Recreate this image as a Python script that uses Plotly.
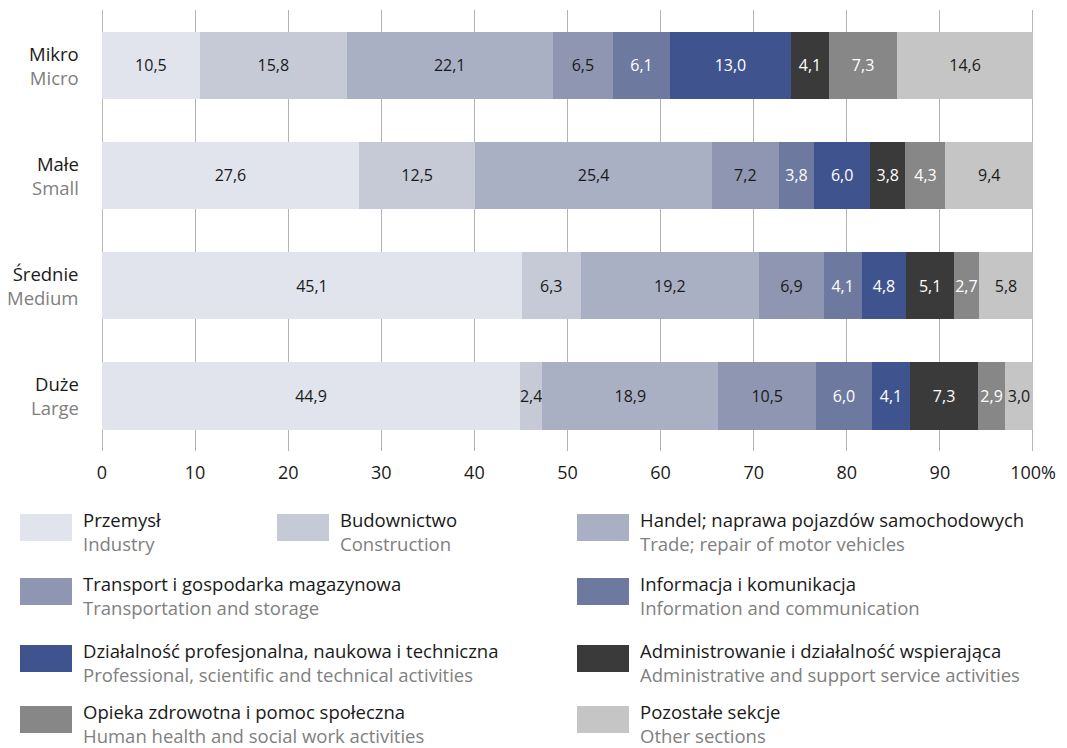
import plotly.graph_objects as go

# --- dane ---
klasy_pl = ["Mikro", "Małe", "Średnie", "Duże"]
klasy_en = ["Micro", "Small", "Medium", "Large"]

sekcje_pl = [
    "Przemysł", "Budownictwo", "Handel; naprawa pojazdów samochodowych",
    "Transport i gospodarka magazynowa", "Informacja i komunikacja",
    "Działalność profesjonalna, naukowa i techniczna",
    "Administrowanie i działalność wspierająca",
    "Opieka zdrowotna i pomoc społeczna", "Pozostałe sekcje",
]
sekcje_en = [
    "Industry", "Construction", "Trade; repair of motor vehicles",
    "Transportation and storage", "Information and communication",
    "Professional, scientific and technical activities",
    "Administrative and support service activities",
    "Human health and social work activities", "Other sections",
]

przemysl = [10.5, 27.6, 45.1, 44.9]
budownictwo = [15.8, 12.5, 6.3, 2.4]
handel = [22.1, 25.4, 19.2, 18.9]
transport = [6.5, 7.2, 6.9, 10.5]
informacja = [6.1, 3.8, 4.1, 6.0]
profesjonalna = [13.0, 6.0, 4.8, 4.1]
administrowanie = [4.1, 3.8, 5.1, 7.3]
opieka = [7.3, 4.3, 2.7, 2.9]
pozostale = [14.6, 9.4, 5.8, 3.0]

serie = [przemysl, budownictwo, handel, transport, informacja,
         profesjonalna, administrowanie, opieka, pozostale]

tick_vals = [0, 10, 20, 30, 40, 50, 60, 70, 80, 90, 100]
tick_text = ["0", "10", "20", "30", "40", "50", "60", "70", "80", "90", "100%"]

# --- styl ---
KOLORY = ["#E1E4EC", "#C6CAD6", "#AAB0C4", "#8E96B2", "#6D799F",
          "#3F548E", "#3A3A3A", "#878787", "#C5C5C5"]
KOLOR_TEKSTU = ["#1a1a1a", "#1a1a1a", "#1a1a1a", "#1a1a1a", "white",
                "white", "white", "white", "#1a1a1a"]
FONT = "Open Sans"
OFF = 8  # margines strony (body) w przegladarce
W, H = 1067 - OFF, 748 - OFF
L, R, T, B = 102 - OFF, 34, 10 - OFF, 297
PW, PH = W - L - R, H - T - B


def px_x(px):
    # pozycja w pikselach obrazu referencyjnego -> paper
    return (px - OFF - L) / PW


def px_y(py):
    return (H - B - (py - OFF)) / PH


fig = go.Figure()

for i, wartosci in enumerate(serie):
    fig.add_trace(go.Bar(
        y=klasy_pl, x=wartosci, orientation="h",
        name=sekcje_pl[i],
        marker=dict(color=KOLORY[i], line=dict(width=0)),
        text=[f"{v:.1f}".replace(".", ",") for v in wartosci],
        textposition="inside", insidetextanchor="middle",
        textangle=0, constraintext="none",
        textfont=dict(family=FONT, size=16, color=KOLOR_TEKSTU[i]),
        showlegend=False, hoverinfo="x+name",
    ))

annotations = []
# etykiety kategorii (dwujęzyczne)
for pl, en in zip(klasy_pl, klasy_en):
    annotations.append(dict(
        x=0, xref="paper", y=pl, yref="y", xshift=-21, yshift=0,
        xanchor="right", yanchor="middle", showarrow=False, align="right",
        text=f"{pl}<br><span style='color:#808080'>{en}</span>",
        font=dict(family=FONT, size=18.5, color="#1a1a1a"),
    ))

# legenda ręczna
kolumny_x = [20, 277, 577]
pozycje = [(0, 0), (0, 1), (0, 2), (1, 0), (1, 2), (2, 0), (2, 2), (3, 0), (3, 2)]
wiersze_y = [514, 578, 645, 706]
shapes = []
for i, (w, k) in enumerate(pozycje):
    x0 = kolumny_x[k]
    y0 = wiersze_y[w]
    shapes.append(dict(
        type="rect", xref="paper", yref="paper",
        x0=px_x(x0), x1=px_x(x0 + 52), y0=px_y(y0), y1=px_y(y0 + 27),
        fillcolor=KOLORY[i], line=dict(width=0),
    ))
    annotations.append(dict(
        x=px_x(x0 + 61), y=px_y(y0 + 17), xref="paper", yref="paper",
        xanchor="left", yanchor="middle", showarrow=False, align="left",
        text=f"{sekcje_pl[i]}<br><span style='color:#808080'>{sekcje_en[i]}</span>",
        font=dict(family=FONT, size=18.5, color="#1a1a1a"),
    ))

# linie 0 i 100
for xv in (0, 100):
    shapes.append(dict(
        type="line", xref="x", yref="paper", x0=xv, x1=xv, y0=0, y1=1,
        line=dict(color="#888888", width=1.2), layer="below",
    ))

fig.update_layout(
    barmode="stack", bargap=0.39,
    width=W, height=H,
    margin=dict(l=L, r=R, t=T, b=B),
    paper_bgcolor="white", plot_bgcolor="white",
    font=dict(family=FONT, size=16, color="#1a1a1a"),
    xaxis=dict(
        range=[0, 100], tickvals=tick_vals, ticktext=tick_text,
        showgrid=True, gridcolor="#b4b4b4", gridwidth=1, zeroline=False,
        showline=False, ticks="", ticklabelstandoff=9,
        tickfont=dict(family=FONT, size=18, color="#1a1a1a"),
        fixedrange=True,
    ),
    yaxis=dict(
        categoryorder="array", categoryarray=klasy_pl, autorange="reversed",
        showticklabels=False, showgrid=False, zeroline=False,
        range=[3.5, -0.5], fixedrange=True,
    ),
    shapes=shapes,
    annotations=annotations,
)

fig.write_html("out.html")
